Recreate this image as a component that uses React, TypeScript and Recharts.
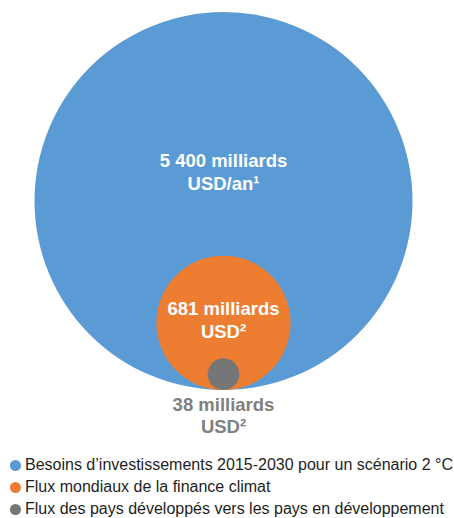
import { ScatterChart, Scatter, XAxis, YAxis, ZAxis, Legend } from "recharts";

const CATEGORIES = [
  "Besoins d’investissements 2015-2030 pour un scénario 2\u00a0°C",
  "Flux mondiaux de la finance climat",
  "Flux des pays développés vers les pays en développement",
];
const VALUES = [5400, 681, 38];
const AMOUNTS = ["5 400 milliards", "681 milliards", "38 milliards"];
const UNITS = ["USD/an¹", "USD²", "USD²"];

const COLORS = ["#5b9bd5", "#ed7d31", "#767676"];
const MAX_RADIUS = 189;

// where the two label lines sit: relative to the circle centre, or under the circle
const LABEL_POS = [
  { anchor: "center", lines: [-34, -11], color: "#ffffff" },
  { anchor: "center", lines: [-8, 15], color: "#ffffff" },
  { anchor: "bottom", lines: [21, 43], color: "#7f7f7f" },
];

function makeBubble(i: number) {
  return function Bubble(props: any) {
    const { cx, cy, width, size, fill } = props;
    const r = width != null ? width / 2 : Math.sqrt(size / Math.PI);
    const centerY = cy - r;
    const pos = LABEL_POS[i];
    const base = pos.anchor === "center" ? centerY : cy;
    return (
      <g>
        <circle cx={cx} cy={centerY} r={r} fill={fill} />
        <text
          x={cx}
          textAnchor="middle"
          fill={pos.color}
          fontSize={18.5}
          fontWeight="bold"
        >
          <tspan x={cx} y={base + pos.lines[0]}>{AMOUNTS[i]}</tspan>
          <tspan x={cx} y={base + pos.lines[1]}>{UNITS[i]}</tspan>
        </text>
      </g>
    );
  };
}

export default function App() {
  return (
    <div
      style={{
        position: "absolute",
        left: 0,
        top: 0,
        width: 454,
        height: 518,
        fontFamily: '"Liberation Sans", Arial, sans-serif',
      }}
    >
      <ScatterChart width={454} height={518} margin={{ top: 0, right: 7, bottom: 62, left: 0 }}>
        <XAxis type="number" dataKey="x" domain={[0, 2]} hide />
        <YAxis type="number" dataKey="y" domain={[0, 1]} hide />
        <ZAxis type="number" dataKey="value" domain={[0, 5400]} range={[0, Math.PI * MAX_RADIUS * MAX_RADIUS]} />
        {CATEGORIES.map((name, i) => (
          <Scatter
            key={name}
            name={name}
            data={[{ x: 1, y: 0, value: VALUES[i] }]}
            fill={COLORS[i]}
            shape={makeBubble(i)}
            legendType="circle"
            isAnimationActive={false}
          />
        ))}
        <Legend
          layout="vertical"
          align="center"
          verticalAlign="bottom"
          height={66}
          iconSize={11}
          itemSorter={(item: any) => CATEGORIES.indexOf(item.value)}
          wrapperStyle={{
            left: 10,
            top: 454,
            bottom: "auto",
            width: 444,
            fontSize: 16,
            lineHeight: "22px",
            whiteSpace: "nowrap",
          }}
          formatter={(value: string) => (
            <span style={{ color: "#1e1e1e", whiteSpace: "nowrap" }}>{value}</span>
          )}
        />
      </ScatterChart>
    </div>
  );
}
